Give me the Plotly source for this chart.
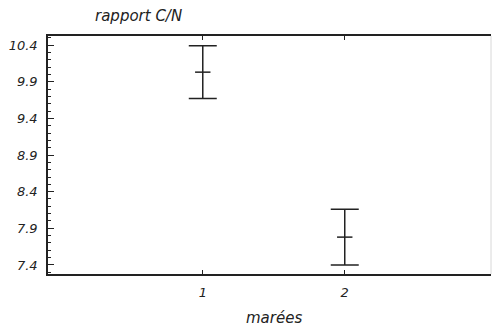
import plotly.graph_objects as go

# C/N ratio per tide: mean and half-width of the interval
marees = [1, 2]
cn_mean = [10.03, 7.78]
cn_err = [0.36, 0.38]

y_ticks = [7.4, 7.9, 8.4, 8.9, 9.4, 9.9, 10.4]
x_ticks = [1, 2]

ink = "#222222"
family = "DejaVu Sans, Liberation Sans, Arial, sans-serif"
tick_font = dict(family=family, size=13, color=ink, style="italic")
title_font = dict(family=family, size=15, color=ink, style="italic")

fig = go.Figure()
fig.add_trace(go.Scatter(
    x=marees, y=cn_mean, mode="markers",
    marker=dict(symbol="line-ew", size=11, line=dict(color=ink, width=1.5)),
    error_y=dict(type="data", array=cn_err, visible=True,
                 color=ink, thickness=1.5, width=14),
    showlegend=False, hoverinfo="skip",
))

fig.update_layout(
    width=493, height=326,
    margin=dict(l=48, r=2, t=36, b=52),
    paper_bgcolor="white", plot_bgcolor="white",
    font=tick_font,
    xaxis=dict(
        range=[-0.09, 3.03], tickvals=x_ticks, ticktext=[str(v) for v in x_ticks],
        ticks="inside", ticklen=4, tickcolor=ink, tickwidth=1,
        showline=True, linecolor=ink, linewidth=1.5, mirror="ticks",
        showgrid=False, zeroline=False, tickfont=tick_font,
        ticklabelstandoff=6,
    ),
    yaxis=dict(
        range=[7.277, 10.523], tickvals=y_ticks, ticktext=[f"{v:.1f}" for v in y_ticks],
        ticks="inside", ticklen=6, tickcolor=ink, tickwidth=1.2,
        minor=dict(dtick=0.1, tick0=7.4, ticks="inside", ticklen=3, tickcolor=ink, tickwidth=1),
        showline=True, linecolor=ink, linewidth=1.5,
        showgrid=False, zeroline=False, tickfont=tick_font,
        ticklabelstandoff=6,
    ),
)

# faint right edge of the frame
fig.add_shape(type="line", xref="paper", yref="paper", x0=1, x1=1, y0=0, y1=1,
              line=dict(color="#d8d8d8", width=1))

# axis captions
fig.add_annotation(text="rapport C/N", xref="paper", yref="paper",
                   x=0.205, y=1.0, yshift=20, showarrow=False, font=title_font,
                   xanchor="center", yanchor="middle")
fig.add_annotation(text="marées", xref="paper", yref="paper",
                   x=0.51, y=0.0, yshift=-44, showarrow=False, font=title_font,
                   xanchor="center", yanchor="middle")

fig.write_html("out.html")
